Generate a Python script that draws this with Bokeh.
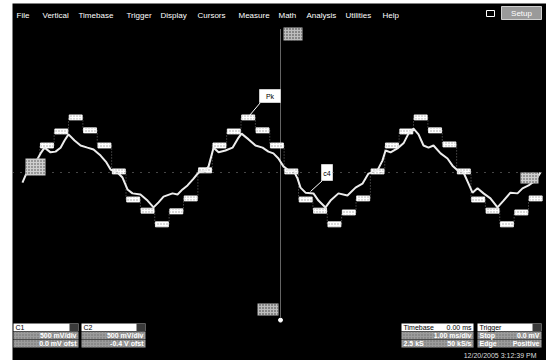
from bokeh.plotting import figure
from bokeh.models import Range1d, Span, Label
from bokeh.embed import file_html
from bokeh.resources import INLINE

# ---- Waveform data -------------------------------------------------------
# Channel 2: sample-and-hold output, one held level per sample (V)
sample_period_ms = 1 / 12
hold_levels = [0.03, 0.75, 1.14, 1.53, 1.17, 0.75, 0.03, -0.75, -1.06, -1.44, -1.08, -0.72,
               0.06, 0.75, 1.14, 1.53, 1.17, 0.75, 0.03, -0.75, -1.06, -1.44, -1.11, -0.72,
               0.03, 0.75, 1.14, 1.53, 1.17, 0.78, 0.03, -0.75, -1.06, -1.44, -1.11, -0.72]

# Channel 1: reconstructed (filtered) waveform, time in ms, level in V
trace_t = [-0.017, 0.001, 0.030, 0.065, 0.088, 0.111, 0.146, 0.175, 0.204, 0.227,
           0.250, 0.285, 0.320, 0.360, 0.395, 0.436, 0.470, 0.494, 0.534, 0.563,
           0.592, 0.621, 0.667, 0.708, 0.743, 0.772, 0.801, 0.853, 0.882, 0.911,
           0.940, 0.975, 1.004, 1.044, 1.062, 1.091, 1.120, 1.160, 1.201, 1.236,
           1.253, 1.294, 1.334, 1.375, 1.409, 1.438, 1.467, 1.496, 1.525, 1.554,
           1.578, 1.595, 1.624, 1.670, 1.699, 1.740, 1.769, 1.815, 1.867, 1.914,
           1.954, 1.989, 2.041, 2.070, 2.088, 2.117, 2.157, 2.192, 2.221, 2.250,
           2.279, 2.308, 2.337, 2.366, 2.407, 2.447, 2.476, 2.505, 2.540, 2.569,
           2.592, 2.621, 2.656, 2.696, 2.737, 2.772, 2.812, 2.853, 2.882, 2.917,
           2.957, 2.986]
trace_v = [-0.28, -0.08, 0.11, 0.33, 0.53, 0.69, 0.56, 0.58, 0.69, 0.89,
           1.06, 0.89, 0.75, 0.69, 0.64, 0.47, 0.28, 0.08, 0.00, -0.14,
           -0.47, -0.58, -0.61, -0.78, -0.97, -0.83, -0.67, -0.58, -0.61, -0.47,
           -0.36, -0.17, 0.00, 0.06, 0.17, 0.69, 0.56, 0.61, 0.69, 0.97,
           1.08, 0.92, 0.75, 0.69, 0.58, 0.53, 0.39, 0.17, 0.06, 0.06,
           -0.17, -0.42, -0.56, -0.58, -0.78, -0.97, -0.78, -0.58, -0.64, -0.42,
           -0.31, -0.03, 0.06, 0.33, 0.61, 0.56, 0.67, 0.81, 1.08, 1.22,
           1.06, 0.75, 0.69, 0.75, 0.53, 0.39, 0.19, 0.06, 0.00, -0.31,
           -0.56, -0.44, -0.58, -0.72, -0.97, -0.78, -0.56, -0.58, -0.44, -0.36,
           -0.22, 0.00]

cursor_t = 1.479          # vertical cursor (ms)
grid_half_height = 4.0    # 4 divisions above / below centre (1 V/div)

menu_items = ["File", "Vertical", "Timebase", "Trigger", "Display", "Cursors",
              "Measure", "Math", "Analysis", "Utilities", "Help"]
timestamp = "12/20/2005 3:12:39 PM"

# ---- Screen layout helpers (scope display pixels -> data units) ----------
T0_PX, PX_PER_MS = 24.875, 172.5
Y0_PX, PX_PER_V = 172.0, 36.0


def sx(px):
    return (px - T0_PX) / PX_PER_MS


def sy(py):
    return (Y0_PX - py) / PX_PER_V


FONT = "Liberation Sans"

p = figure(width=546, height=360, output_backend="svg", toolbar_location=None,
           x_axis_location=None, y_axis_location=None,
           x_range=Range1d(sx(12), sx(546)), y_range=Range1d(sy(360), sy(3)),
           min_border_left=12, min_border_top=3, min_border_right=0, min_border_bottom=0,
           background_fill_color="black", border_fill_color="white",
           outline_line_color=None)
p.grid.visible = False

# centre graticule line and cursor
p.add_layout(Span(location=0, dimension="width", line_color="#8a8a8a",
                  line_dash="1 7", line_width=1))
p.segment(x0=[cursor_t], y0=[-grid_half_height], x1=[cursor_t], y1=[grid_half_height],
          line_color="#c8c8c8", line_dash="1 1", line_width=1)
p.scatter(x=[cursor_t], y=[-grid_half_height - 0.1], size=4, color="white")

# ---- Channel 2: held samples ---------------------------------------------
n = len(hold_levels)
starts = [k * sample_period_ms for k in range(n)]
ends = [(k + 1) * sample_period_ms for k in range(n)]
gap = 0.004
# faint edges between consecutive held levels
p.segment(x0=starts[1:], y0=hold_levels[:-1], x1=starts[1:], y1=hold_levels[1:],
          line_color="#6e6e6e", line_dash="1 2", line_width=1)
p.quad(left=[s + gap for s in starts], right=[e - gap for e in ends],
       top=[v + 0.07 for v in hold_levels], bottom=[v - 0.07 for v in hold_levels],
       fill_color="white", line_color="white", line_width=0.8,
       hatch_pattern="dot", hatch_color="#9a9a9a", hatch_scale=3)

# ---- Channel 1: filtered waveform ----------------------------------------
p.line(trace_t, trace_v, line_color="#ececec", line_width=2)

# trace position markers at the screen edges
p.quad(left=[sx(25), sx(520)], right=[sx(45), sx(538)], top=[sy(158), sy(172)],
       bottom=[sy(175), sy(183)], fill_color="#cfcfcf", line_color=None,
       hatch_pattern="dot", hatch_color="#444444", hatch_scale=3)

# cursor tags top / bottom
p.quad(left=[sx(283), sx(257)], right=[sx(302), sx(278)], top=[sy(27), sy(303)],
       bottom=[sy(40), sy(315)], fill_color="#bdbdbd", line_color=None,
       hatch_pattern="dot", hatch_color="#333333", hatch_scale=3)

# measurement callouts
p.segment(x0=[sx(260), sx(322)], y0=[sy(102), sy(180)], x1=[sx(249), sx(310)],
          y1=[sy(115), sy(191)], line_color="white", line_width=1)
p.quad(left=[sx(259), sx(321)], right=[sx(280), sx(332)], top=[sy(89), sy(164)],
       bottom=[sy(102), sy(180)], fill_color="white", line_color="#cccccc")
p.add_layout(Label(x=sx(269.5), y=sy(95.5), text="Pk", text_font=FONT,
                   text_font_size="7px", text_color="black", text_align="center",
                   text_baseline="middle"))
p.add_layout(Label(x=sx(326.5), y=sy(173), text="c4", text_font=FONT,
                   text_font_size="7px", text_color="black", text_align="center",
                   text_baseline="middle"))

# ---- Menu bar -------------------------------------------------------------
menu_x = [16, 42, 78, 126, 160, 197, 238, 278, 306, 345, 382]
for name, px in zip(menu_items, menu_x):
    p.add_layout(Label(x=sx(px), y=sy(14.5), text=name, text_font=FONT,
                       text_font_size="8px", text_color="white",
                       text_baseline="middle"))
p.quad(left=[sx(501)], right=[sx(541)], top=[sy(6)], bottom=[sy(19)],
       fill_color="#9a9a9a", line_color="#d0d0d0")
p.add_layout(Label(x=sx(521), y=sy(12.5), text="Setup", text_font=FONT,
                   text_font_size="8px", text_color="white", text_align="center",
                   text_baseline="middle"))
p.quad(left=[sx(486)], right=[sx(494)], top=[sy(10)], bottom=[sy(16)],
       fill_color=None, line_color="white")

# ---- Descriptor boxes -----------------------------------------------------
panels = [
    # x0, x1, title, title_right, row2 (left, right), row3 (left, right)
    (13, 78, "C1", "", ("", "500 mV/div"), ("", "0.0 mV ofst")),
    (81, 145, "C2", "", ("", "500 mV/div"), ("", "-0.4 V ofst")),
    (401, 473, "Timebase", "0.00 ms", ("", "1.00 ms/div"), ("2.5 kS", "50 kS/s")),
    (477, 541, "Trigger", "", ("Stop", "0.0 mV"), ("Edge", "Positive")),
]
for x0, x1, title, title_r, row2, row3 in panels:
    p.quad(left=[sx(x0)], right=[sx(x1)], top=[sy(323)], bottom=[sy(330.5)],
           fill_color="white", line_color=None)
    p.quad(left=[sx(x0), sx(x0)], right=[sx(x1), sx(x1)], top=[sy(331), sy(339)],
           bottom=[sy(338.5), sy(347)], fill_color="#9c9c9c", line_color=None,
           hatch_pattern="dot", hatch_color="#6a6a6a", hatch_scale=3)
    if not title_r:
        p.quad(left=[sx(x1 - 9)], right=[sx(x1)], top=[sy(323)], bottom=[sy(330.5)],
               fill_color="#3a3a3a", line_color=None)
    p.add_layout(Label(x=sx(x0 + 2), y=sy(327), text=title, text_font=FONT,
                       text_font_size="7px", text_color="black", text_baseline="middle"))
    if title_r:
        p.add_layout(Label(x=sx(x1 - 2), y=sy(327), text=title_r, text_font=FONT,
                           text_font_size="7px", text_color="black",
                           text_align="right", text_baseline="middle"))
    for (left_txt, right_txt), py in ((row2, 335), (row3, 343.2)):
        if left_txt:
            p.add_layout(Label(x=sx(x0 + 2), y=sy(py), text=left_txt, text_font=FONT,
                               text_font_size="7px", text_color="white",
                               text_font_style="bold", text_baseline="middle"))
        p.add_layout(Label(x=sx(x1 - 2), y=sy(py), text=right_txt, text_font=FONT,
                           text_font_size="7px", text_color="white",
                           text_font_style="bold", text_align="right",
                           text_baseline="middle"))

p.add_layout(Label(x=sx(536), y=sy(354.5), text=timestamp, text_font=FONT,
                   text_font_size="7px", text_color="#dddddd", text_align="right",
                   text_baseline="middle"))

open("out.html", "w").write(file_html(p, INLINE))
